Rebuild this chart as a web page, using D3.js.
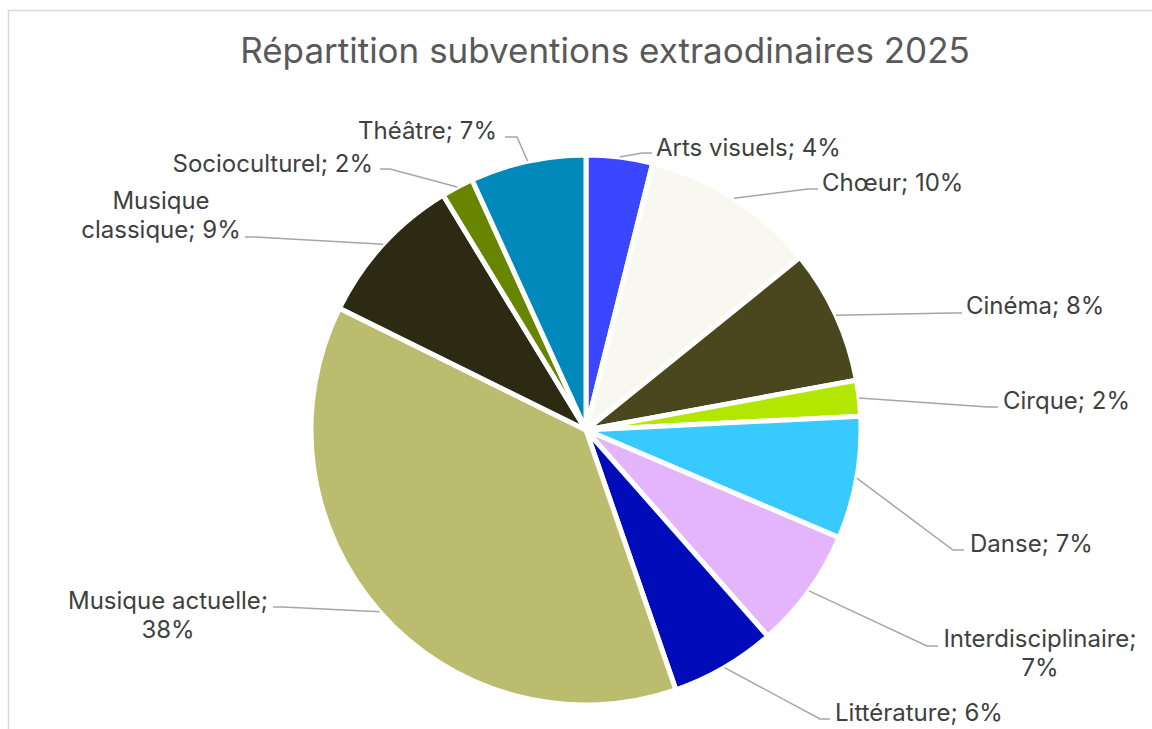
<!DOCTYPE html>
<html>
<head>
<meta charset="utf-8">
<script src="https://cdn.jsdelivr.net/npm/d3@7"></script>
<style>
  html, body { margin: 0; padding: 0; background: #fff; }
  svg { display: block; font-family: Inter, "Noto Sans", sans-serif; }
</style>
</head>
<body>
<svg id="chart" width="1152" height="729"></svg>
<script>
// categories, clockwise from 12 o'clock
const categories = ["Arts visuels", "Chœur", "Cinéma", "Cirque", "Danse", "Interdisciplinaire",
    "Littérature", "Musique actuelle", "Musique classique", "Socioculturel", "Théâtre"];
// share of the total (%)
const values = [3.9, 10.3, 7.9, 2.1, 7.2, 7.1, 6.2, 37.6, 9.0, 1.9, 6.8];
const colors = ["#3a46ff", "#f8f8f0", "#4a461e", "#b3e600", "#38caff", "#e4b4fc",
    "#000cba", "#bcbc6e", "#2c2a12", "#688500", "#0089ba"];

// where Excel placed each label (x, y = centre of first line), and where its leader bends
const labelLayout = [
    { x: 656, y: 147, anchor: "start", ex: 642, ey: 153, stub: 10 },
    { x: 822, y: 182, anchor: "start", ex: 808, ey: 189, stub: 10 },
    { x: 966, y: 305, anchor: "start", ex: 952, ey: 313, stub: 10 },
    { x: 1003, y: 400, anchor: "start", ex: 988, ey: 407, stub: 10 },
    { x: 970, y: 543, anchor: "start", ex: 953, ey: 550, stub: 11 },
    { x: 1040, y: 638, anchor: "middle", br: 1, ex: 927, ey: 646, stub: 11 },
    { x: 835, y: 712, anchor: "start", ex: 820, ey: 719, stub: 10 },
    { x: 168, y: 600, anchor: "middle", br: 2, ex: 283, ey: 607, stub: -10 },
    { x: 161, y: 200, anchor: "middle", br: 1, ex: 255, ey: 237, stub: -10 },
    { x: 373, y: 163, anchor: "end", ex: 390, ey: 169, stub: -10 },
    { x: 497, y: 130, anchor: "end", ex: 517, ey: 137, stub: -12 }
];

const svg = d3.select("#chart");
const cx = 586, cy = 430, radius = 275;

// chart frame (runs off the right and bottom of the screenshot)
svg.append("rect")
    .attr("x", 8.5).attr("y", 10.5)
    .attr("width", 1200).attr("height", 800)
    .attr("fill", "#fff")
    .attr("stroke", "#d9d9d9")
    .attr("stroke-width", 1.5);

svg.append("text")
    .attr("x", 605).attr("y", 63)
    .attr("text-anchor", "middle")
    .attr("fill", "#595959")
    .style("font-size", "35px")
    .text("Répartition subventions extraodinaires 2025");

const total = d3.sum(values);
const pie = d3.pie().sort(null).value(d => d)(values);
const arc = d3.arc().innerRadius(0).outerRadius(radius);
const edge = d3.arc().innerRadius(radius).outerRadius(radius);

const g = svg.append("g").attr("transform", `translate(${cx},${cy})`);

g.selectAll("path.slice")
    .data(pie)
    .join("path")
    .attr("class", "slice")
    .attr("d", arc)
    .attr("fill", (d, i) => colors[i])
    .attr("stroke", "#fff")
    .attr("stroke-width", 5)
    .attr("stroke-linejoin", "round");

// leader lines
const line = d3.line();
svg.append("g")
    .selectAll("path")
    .data(pie)
    .join("path")
    .attr("d", (d, i) => {
        const L = labelLayout[i];
        const p = edge.centroid(d);
        return line([[cx + p[0], cy + p[1]], [L.ex, L.ey], [L.ex + L.stub, L.ey]]);
    })
    .attr("fill", "none")
    .attr("stroke", "#a6a6a6")
    .attr("stroke-width", 1.5);

// data labels
const labels = svg.append("g")
    .selectAll("text")
    .data(pie)
    .join("text")
    .attr("text-anchor", (d, i) => labelLayout[i].anchor)
    .attr("fill", "#404040")
    .style("font-size", "24px")
    .attr("dominant-baseline", "central");

labels.each(function (d, i) {
    const L = labelLayout[i];
    const txt = `${categories[i]}; ${Math.round(d.value / total * 100)}%`;
    const words = txt.split(" ");
    const rows = L.br ? [words.slice(0, L.br).join(" "), words.slice(L.br).join(" ")] : [txt];
    d3.select(this).selectAll("tspan")
        .data(rows)
        .join("tspan")
        .attr("x", L.x)
        .attr("y", (r, k) => L.y + k * 29)
        .text(r => r);
});
</script>
</body>
</html>
